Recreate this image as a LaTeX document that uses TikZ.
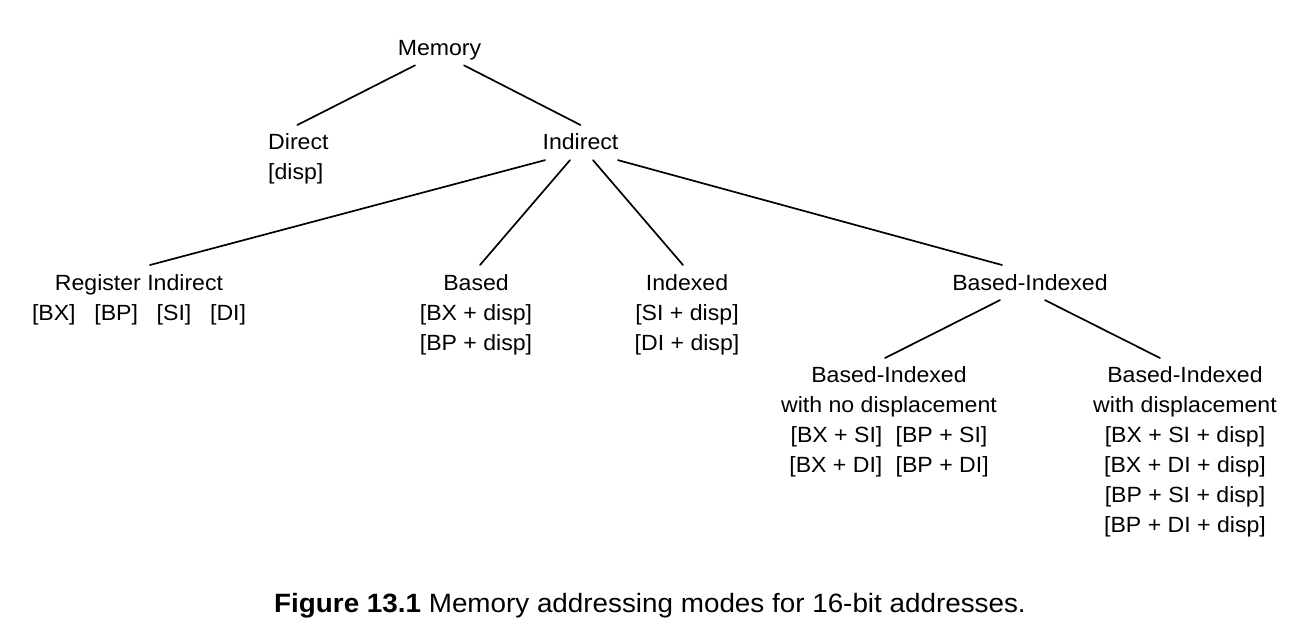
\documentclass[tikz,border=0pt]{standalone}
\usepackage{fontspec}
\setmainfont{Liberation Sans}[FakeStretch=1.05]
\tikzset{
  lbl/.style={inner sep=0pt, font=\fontsize{22}{30}\selectfont, align=center, anchor=north},
  edge/.style={line width=1.7pt, line cap=round}
}
\begin{document}
\begin{tikzpicture}[x=1pt,y=-1pt]
\useasboundingbox (0,0) rectangle (1312,640);
\fill[white] (0,0) rectangle (1312,640);
% nodes
\node[lbl] (mem) at (439.5,40) {Memory};
\node[lbl, align=left, anchor=north west] (dir) at (268,133) {Direct\\\relax[disp]};
\node[lbl] (ind) at (580.5,133) {Indirect};
\node[lbl] (reg) at (139,274) {Register Indirect\\\relax[BX]\hspace{0.85em}[BP]\hspace{0.85em}[SI]\hspace{0.85em}[DI]};
\node[lbl] (based) at (476,274) {Based\\\relax[BX + disp]\\\relax[BP + disp]};
\node[lbl] (idx) at (687,274) {Indexed\\\relax[SI + disp]\\\relax[DI + disp]};
\node[lbl] (bi) at (1030,274) {Based-Indexed};
\node[lbl] (bind) at (889,366) {Based-Indexed\\with no displacement\\\relax[BX + SI]\hspace{0.6em}[BP + SI]\\\relax[BX + DI]\hspace{0.6em}[BP + DI]};
\node[lbl] (biwd) at (1185,366) {Based-Indexed\\with displacement\\\relax[BX + SI + disp]\\\relax[BX + DI + disp]\\\relax[BP + SI + disp]\\\relax[BP + DI + disp]};
\node[inner sep=0pt, anchor=base, font=\fontsize{26.5}{30}\selectfont] (cap) at (650,612) {\textbf{Figure 13.1} Memory addressing modes for 16-bit addresses.};
% connectors
\draw[edge] ([xshift=-24.5pt,yshift=-10pt]mem.base) -- ([xshift=-1pt,yshift=8pt]dir.north);
\draw[edge] ([xshift=24.5pt,yshift=-10pt]mem.base) -- ([yshift=8pt]ind.north);
\draw[edge] ([xshift=-35.5pt,yshift=-11pt]ind.base) -- ([xshift=11pt,yshift=9pt]reg.north);
\draw[edge] ([xshift=-10.5pt,yshift=-11pt]ind.base) -- ([xshift=4pt,yshift=9pt]based.north);
\draw[edge] ([xshift=12.5pt,yshift=-11pt]ind.base) -- ([xshift=-4pt,yshift=9pt]idx.north);
\draw[edge] ([xshift=37.5pt,yshift=-11pt]ind.base) -- ([xshift=-28pt,yshift=9pt]bi.north);
\draw[edge] ([xshift=-30pt,yshift=-10pt]bi.base) -- ([xshift=-4pt,yshift=8pt]bind.north);
\draw[edge] ([xshift=15pt,yshift=-10pt]bi.base) -- ([xshift=-25pt,yshift=8pt]biwd.north);
\end{tikzpicture}
\end{document}
